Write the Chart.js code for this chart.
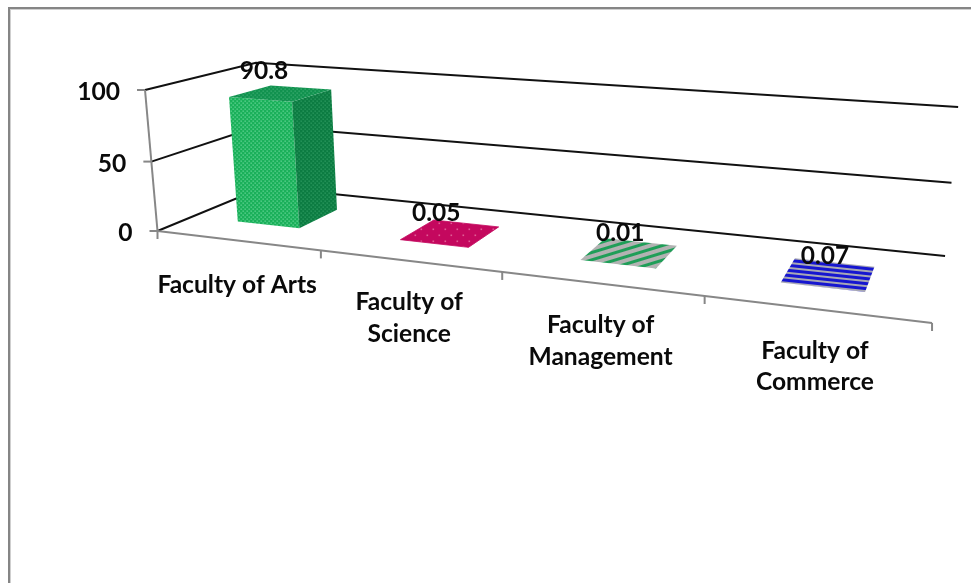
<!DOCTYPE html>
<html><head><meta charset="utf-8">
<style>html,body{margin:0;padding:0;background:#fff;overflow:hidden}canvas{display:block;filter:blur(.6px)}</style>
<script src="https://cdn.jsdelivr.net/npm/chart.js@4/dist/chart.umd.js"></script>
</head><body>
<canvas id="c" width="971" height="583"></canvas>
<script>
const categories = [['Faculty of Arts'], ['Faculty of', 'Science'], ['Faculty of', 'Management'], ['Faculty of', 'Commerce']];
const values = [90.8, 0.05, 0.01, 0.07];
const yMin = 0, yMax = 100, yStep = 50;

// Camera: (s along the category axis, t depth, h height), all 0..1 -> page pixels
const CAM = [[590, 143.7, -16.9, 157.5], [28.05, -17.6, -143.75, 231], [-0.198, 0.141, -0.0305, 1]];
const project = (s, t, h) => {
  const d = CAM[2][0]*s + CAM[2][1]*t + CAM[2][2]*h + CAM[2][3];
  return [(CAM[0][0]*s + CAM[0][1]*t + CAM[0][2]*h + CAM[0][3]) / d,
          (CAM[1][0]*s + CAM[1][1]*t + CAM[1][2]*h + CAM[1][3]) / d];
};
const DEPTH_FRONT = 0.305, DEPTH_BACK = 0.70, BAR_SHIFT = -0.003;
const AXIS = '#878787', GRID = '#111111', TEXT = '#0a0a0a';
const BOLD = 'bold 24.6px Lato', VALUE = 'bold 24.5px Lato';

function tile(w, h, paint) {
  const c = document.createElement('canvas'); c.width = w; c.height = h;
  paint(c.getContext('2d')); return c;
}
function dots(base, dot, step, r) {
  return tile(step*2, step*2, g => {
    g.fillStyle = base; g.fillRect(0, 0, step*2, step*2);
    g.fillStyle = dot;
    [[0,0],[step,step]].forEach(([x,y]) => g.fillRect(x+0.5, y+0.5, r, r));
  });
}
function stripes(a, aH, b, bH) {
  return tile(8, aH+bH, g => {
    g.fillStyle = a; g.fillRect(0, 0, 8, aH);
    g.fillStyle = b; g.fillRect(0, aH, 8, bH);
  });
}
function pat(ctx, c, deg) {
  const p = ctx.createPattern(c, 'repeat');
  if (deg) p.setTransform(new DOMMatrix().rotate(deg));
  return p;
}
function styles(ctx) {
  return [
    { front: pat(ctx, dots('#1ab05a', '#66d596', 2, 1.3)), side: pat(ctx, dots('#0c7c42', '#2f9c63', 2, 1.3)), top: pat(ctx, dots('#11924f', '#3cad72', 2, 1.3)), edge: null },
    { front: '#c4085e', side: '#c4085e', top: pat(ctx, dots('#c4085e', '#df5f95', 6, 1.6)), edge: '#c4085e' },
    { front: 'rgba(0,0,0,0)', side: 'rgba(0,0,0,0)', top: pat(ctx, stripes('#1f9e58', 3, '#b2b2b2', 4), -17), edge: null },
    { front: 'rgba(0,0,0,0)', side: 'rgba(0,0,0,0)', top: pat(ctx, stripes('#1616d0', 3, '#a8a8b4', 2), 6), edge: null }
  ];
}
let STY = null;

function poly(ctx, pts, fill, edge) {
  ctx.beginPath();
  pts.forEach((p, i) => i ? ctx.lineTo(p[0], p[1]) : ctx.moveTo(p[0], p[1]));
  ctx.closePath();
  ctx.fillStyle = fill; ctx.fill();
  if (edge) { ctx.strokeStyle = edge; ctx.lineWidth = 0.8; ctx.stroke(); }
}

class Bar3D extends Chart.BarController {
  static id = 'bar3d';
  static defaults = { ...Chart.BarController.defaults };
  draw() {
    const chart = this.chart, ctx = chart.ctx, ca = chart.chartArea;
    this.getMeta().data.forEach((el, i) => {
      const st = STY[i];
      const s0 = (el.x - el.width/2 - ca.left) / ca.width + BAR_SHIFT, s1 = (el.x + el.width/2 - ca.left) / ca.width + BAR_SHIFT;
      const h = (ca.bottom - el.y) / ca.height, a = DEPTH_FRONT, b = DEPTH_BACK;
      poly(ctx, [project(s0,a,0), project(s1,a,0), project(s1,a,h), project(s0,a,h)], st.front);
      poly(ctx, [project(s1,a,0), project(s1,b,0), project(s1,b,h), project(s1,a,h)], st.side);
      poly(ctx, [project(s0,a,h), project(s1,a,h), project(s1,b,h), project(s0,b,h)], st.top, st.edge);
    });
  }
}
Chart.register(Bar3D);

function line(ctx, pts, color, w) {
  ctx.beginPath();
  pts.forEach((p, i) => i ? ctx.lineTo(p[0], p[1]) : ctx.moveTo(p[0], p[1]));
  ctx.strokeStyle = color; ctx.lineWidth = w; ctx.lineJoin = 'miter'; ctx.stroke();
}

const perspective = {
  id: 'perspective',
  beforeDatasetsDraw(chart) {
    const ctx = chart.ctx, ca = chart.chartArea, xs = chart.scales.x, ys = chart.scales.y;
    if (!STY) STY = styles(ctx);
    // Outer frame
    ctx.fillStyle = '#cfcfcf'; ctx.fillRect(10, 9, 961, 1); ctx.fillRect(10, 9, 1, 574);
    ctx.fillStyle = '#858585'; ctx.fillRect(8, 7, 963, 2); ctx.fillRect(8, 7, 2, 576);

    // Horizontal grid, value ticks and labels
    ys.ticks.forEach(t => {
      const h = (ca.bottom - ys.getPixelForValue(t.value)) / ca.height;
      line(ctx, [project(0,0,h), project(0,1,h), project(1,1,h)], GRID, 2);
    });
    ctx.font = BOLD; ctx.fillStyle = TEXT; ctx.textAlign = 'right'; ctx.textBaseline = 'middle';
    line(ctx, [project(0,0,0), project(0,0,1)], AXIS, 2);
    line(ctx, [project(0,0,0), project(1,0,0)], AXIS, 2);
    ys.ticks.forEach(t => {
      const h = (ca.bottom - ys.getPixelForValue(t.value)) / ca.height, p = project(0,0,h);
      line(ctx, [[p[0]-8, p[1]], p], AXIS, 2);
      ctx.fillStyle = TEXT;
      ctx.fillText(t.label, p[0]-25, p[1]+2);
    });
    // Category boundaries and labels
    const n = xs.ticks.length;
    for (let i = 0; i <= n; i++) {
      const p = project(i / n, 0, 0);
      line(ctx, [p, [p[0], p[1]+8]], AXIS, 2);
    }
    ctx.textAlign = 'center';
    xs.ticks.forEach((t, i) => {
      const s = (xs.getPixelForTick(i) - ca.left) / ca.width, p = project(s, 0, 0);
      const lines = [].concat(t.label), off = lines.length === 1 ? 45 : 41.5;
      lines.forEach((txt, k) => ctx.fillText(txt, p[0], p[1] + off + k*31.5));
    });
  },
  afterDatasetsDraw(chart) {
    const ctx = chart.ctx, ca = chart.chartArea;
    ctx.font = VALUE; ctx.fillStyle = TEXT; ctx.textAlign = 'center'; ctx.textBaseline = 'middle';
    chart.getDatasetMeta(0).data.forEach((el, i) => {
      const s = (el.x - ca.left) / ca.width, h = (ca.bottom - el.y) / ca.height;
      const p = project(s, DEPTH_FRONT, h);
      ctx.fillText(String(values[i]), p[0] + 2*h, p[1] - 31 + 3*h);
    });
  }
};

new Chart(document.getElementById('c'), {
  type: 'bar3d',
  data: { labels: categories, datasets: [{ data: values, categoryPercentage: 1, barPercentage: 0.39 }] },
  options: {
    responsive: false, animation: false, devicePixelRatio: 1,
    layout: { padding: 0 },
    plugins: { legend: { display: false }, tooltip: { enabled: false } },
    scales: {
      x: { type: 'category', display: false },
      y: { type: 'linear', display: false, min: yMin, max: yMax, ticks: { stepSize: yStep } }
    }
  },
  plugins: [perspective]
});
</script>
</body></html>
